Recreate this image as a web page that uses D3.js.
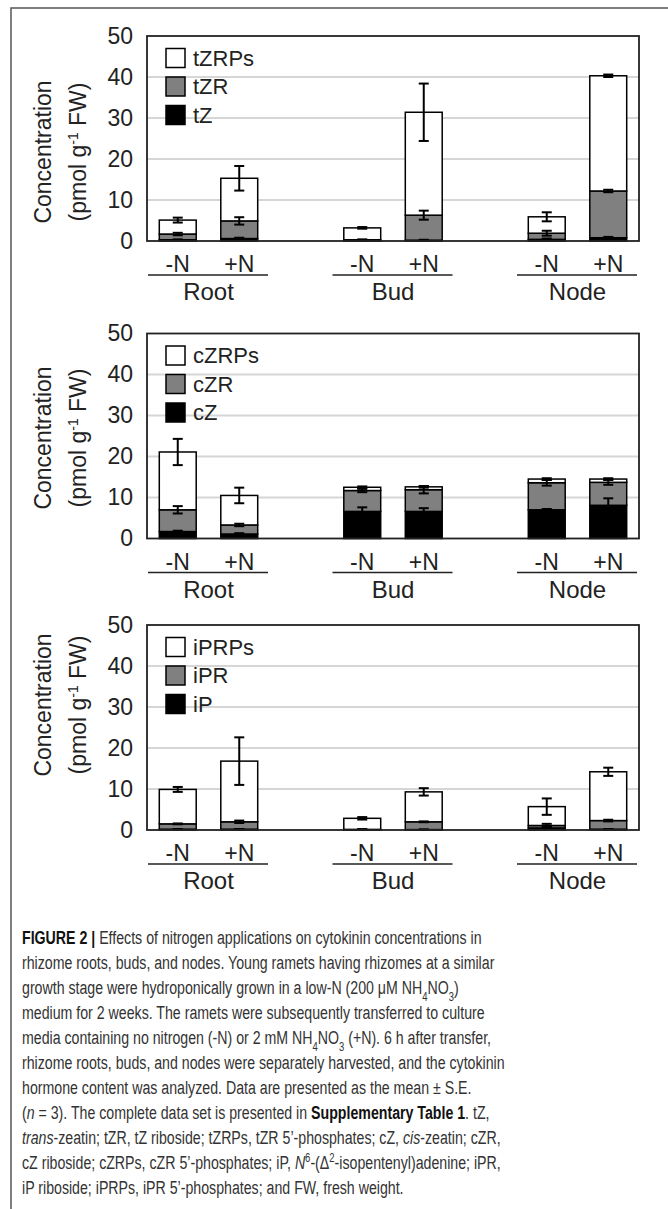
<!DOCTYPE html>
<meta charset="utf-8">
<body style="margin:0;background:#fff">
<svg id="fig"></svg>
<script src="https://cdn.jsdelivr.net/npm/d3@7"></script>
<script>
// bar order in every series: Root -N, Root +N, Bud -N, Bud +N, Node -N, Node +N
var organs = ["Root", "Bud", "Node"];
var treatments = ["-N", "+N"];
var yTicks = [0, 10, 20, 30, 40, 50];

// segment amounts (pmol g-1 FW), stacked bottom to top, and their S.E.
var tZ       = [0.3, 0.6, 0.1, 0.2, 0.4, 0.8];
var tZ_se    = [0.1, 0.2, 0.05, 0.1, 0.2, 0.2];
var tZR      = [1.4, 4.3, 0.2, 6.1, 1.5, 11.4];
var tZR_se   = [0.3, 0.9, 0.1, 1.1, 0.6, 0.3];
var tZRPs    = [3.4, 10.4, 2.9, 25.1, 4.0, 28.1];
var tZRPs_se = [0.6, 3.0, 0.2, 7.0, 1.1, 0.3];

var cZ       = [1.7, 1.1, 6.6, 6.6, 7.0, 8.1];
var cZ_se    = [0.2, 0.2, 1.0, 0.8, 0.2, 1.7];
var cZR      = [5.3, 2.2, 5.1, 5.3, 6.6, 5.6];
var cZR_se   = [0.9, 0.3, 0.4, 0.9, 0.7, 0.6];
var cZRPs    = [14.1, 7.2, 0.8, 0.7, 0.9, 0.8];
var cZRPs_se = [3.2, 1.9, 0.2, 0.2, 0.2, 0.2];

var iP       = [0.2, 0.2, 0.05, 0.1, 0.5, 0.2];
var iP_se    = [0.05, 0.05, 0.02, 0.05, 0.3, 0.05];
var iPR      = [1.3, 1.8, 0.1, 1.9, 0.6, 2.1];
var iPR_se   = [0.1, 0.3, 0.05, 0.1, 0.4, 0.2];
var iPRPs    = [8.4, 14.8, 2.7, 7.3, 4.6, 11.9];
var iPRPs_se = [0.6, 5.8, 0.3, 0.9, 2.0, 1.0];

var panels = [
  {keys: ["tZ", "tZR", "tZRPs"], values: [tZ, tZR, tZRPs], errors: [tZ_se, tZR_se, tZRPs_se]},
  {keys: ["cZ", "cZR", "cZRPs"], values: [cZ, cZR, cZRPs], errors: [cZ_se, cZR_se, cZRPs_se]},
  {keys: ["iP", "iPR", "iPRPs"], values: [iP, iPR, iPRPs], errors: [iP_se, iPR_se, iPRPs_se]}
];
var fills = ["#000", "#808080", "#fff"];

var caption = [
  [["FIGURE 2 | ", "b"], ["Effects of nitrogen applications on cytokinin concentrations in"]],
  [["rhizome roots, buds, and nodes. Young ramets having rhizomes at a similar"]],
  [["growth stage were hydroponically grown in a low-N (200 \u03bcM NH"], ["4", "sub"], ["NO"], ["3", "sub"], [")"]],
  [["medium for 2 weeks. The ramets were subsequently transferred to culture"]],
  [["media containing no nitrogen (-N) or 2 mM NH"], ["4", "sub"], ["NO"], ["3", "sub"], [" (+N). 6 h after transfer,"]],
  [["rhizome roots, buds, and nodes were separately harvested, and the cytokinin"]],
  [["hormone content was analyzed. Data are presented as the mean \u00b1 S.E."]],
  [["("], ["n", "i"], [" = 3). The complete data set is presented in "], ["Supplementary Table 1", "b"], [". tZ,"]],
  [["trans", "i"], ["-zeatin; tZR, tZ riboside; tZRPs, tZR 5\u2019-phosphates; cZ, "], ["cis", "i"], ["-zeatin; cZR,"]],
  [["cZ riboside; cZRPs, cZR 5\u2019-phosphates; iP, "], ["N", "i"], ["6", "sup"], ["-(\u0394"], ["2", "sup"], ["-isopentenyl)adenine; iPR,"]],
  [["iP riboside; iPRPs, iPR 5\u2019-phosphates; and FW, fresh weight."]]
];

var width = 668, height = 1209;
var font = "'Liberation Sans', Arial, sans-serif";

var svg = d3.select("#fig").attr("width", width).attr("height", height)
    .style("font-family", font);
svg.append("rect").attr("width", width).attr("height", height).attr("fill", "#fff");
// figure box: only top and left edges are visible
svg.append("path").attr("d", "M11," + height + "V8H" + width)
    .attr("fill", "none").attr("stroke", "#555").attr("stroke-width", 1.5);

var plotLeft = 147, plotRight = 639, plotH = 205;
var panelTops = [36, 333.5, 625];
var labelMid = [152, 438, 705];

var x0 = d3.scaleBand().domain(organs).range([plotLeft, plotRight])
    .paddingInner(1 / 3).paddingOuter(0);
var x1 = d3.scaleBand().domain(treatments).range([0, x0.bandwidth()])
    .paddingInner(0.4).paddingOuter(0.2);
var y = d3.scaleLinear().domain([0, 50]).range([plotH, 0]);

panels.forEach(function(p, pi) {
  var g = svg.append("g").attr("transform", "translate(0," + panelTops[pi] + ")");

  var rows = p.values[0].map(function(_, i) {
    var r = {organ: organs[Math.floor(i / 2)], trt: treatments[i % 2], idx: i};
    p.keys.forEach(function(k, j) { r[k] = p.values[j][i]; });
    return r;
  });
  var series = d3.stack().keys(p.keys)(rows);

  // grid
  g.selectAll(".grid").data(yTicks.slice(1, -1)).enter().append("line")
    .attr("x1", plotLeft).attr("x2", plotRight)
    .attr("y1", function(d) { return y(d); }).attr("y2", function(d) { return y(d); })
    .attr("stroke", "#d6d6d6").attr("stroke-width", 2);

  // bars
  series.forEach(function(s, j) {
    g.selectAll(".bar" + j).data(s).enter().append("rect")
      .attr("x", function(d) { return x0(d.data.organ) + x1(d.data.trt); })
      .attr("width", x1.bandwidth())
      .attr("y", function(d) { return y(d[1]); })
      .attr("height", function(d) { return y(d[0]) - y(d[1]); })
      .attr("fill", fills[j]).attr("stroke", "#000").attr("stroke-width", 1.5);
  });

  // error bars
  series.forEach(function(s, j) {
    s.forEach(function(d) {
      var cx = x0(d.data.organ) + x1(d.data.trt) + x1.bandwidth() / 2;
      var se = p.errors[j][d.data.idx];
      var hi = y(d[1] + se), lo = y(d[1] - se);
      var eb = g.append("g").attr("stroke", "#000").attr("stroke-width", 2);
      eb.append("line").attr("x1", cx).attr("x2", cx).attr("y1", hi).attr("y2", lo);
      eb.append("line").attr("x1", cx - 5).attr("x2", cx + 5).attr("y1", hi).attr("y2", hi);
      eb.append("line").attr("x1", cx - 5).attr("x2", cx + 5).attr("y1", lo).attr("y2", lo);
    });
  });

  // frame
  g.append("rect").attr("x", plotLeft).attr("y", 0)
    .attr("width", plotRight - plotLeft).attr("height", plotH)
    .attr("fill", "none").attr("stroke", "#222").attr("stroke-width", 1.8);

  // y axis
  var ax = g.append("g").attr("transform", "translate(" + plotLeft + ",0)")
    .call(d3.axisLeft(y).tickValues(yTicks).tickSize(0).tickPadding(14));
  ax.select(".domain").remove();
  ax.selectAll("text").style("font-size", "23px").style("font-family", font).attr("fill", "#222");

  // y label
  var yl = g.append("g").attr("fill", "#222").style("font-size", "23px");
  yl.append("text").attr("transform", "translate(43," + (labelMid[pi] - panelTops[pi]) + ") rotate(-90)")
    .attr("text-anchor", "middle").attr("dy", "0.35em").text("Concentration");
  var t2 = yl.append("text").attr("transform", "translate(78," + (labelMid[pi] - panelTops[pi]) + ") rotate(-90)")
    .attr("text-anchor", "middle").attr("dy", "0.35em");
  t2.append("tspan").text("(pmol g");
  t2.append("tspan").attr("baseline-shift", "super").style("font-size", "14px").text("-1");
  t2.append("tspan").text(" FW)");

  // legend (top layer first)
  var legendKeys = p.keys.slice().reverse();
  legendKeys.forEach(function(k, li) {
    var cy = 22 + li * 28.5;
    g.append("rect").attr("x", 166).attr("y", cy - 9.5).attr("width", 19).attr("height", 19)
      .attr("fill", fills[2 - li]).attr("stroke", "#000").attr("stroke-width", 1.5);
    g.append("text").attr("x", 193).attr("y", cy).attr("dy", "0.35em")
      .style("font-size", "22px").attr("fill", "#222").text(k);
  });

  // x labels
  rows.forEach(function(r) {
    g.append("text")
      .attr("x", x0(r.organ) + x1(r.trt) + x1.bandwidth() / 2)
      .attr("y", plotH + 23).attr("dy", "0.35em").attr("text-anchor", "middle")
      .style("font-size", "23px").attr("fill", "#222").text(r.trt);
  });
  organs.forEach(function(o) {
    g.append("line").attr("x1", x0(o) + 1).attr("x2", x0(o) + x0.bandwidth() - 2)
      .attr("y1", plotH + 34).attr("y2", plotH + 34)
      .attr("stroke", "#222").attr("stroke-width", 1.5);
    g.append("text").attr("x", x0(o) + x0.bandwidth() / 2).attr("y", plotH + 51)
      .attr("dy", "0.35em").attr("text-anchor", "middle")
      .style("font-size", "24px").attr("fill", "#222").text(o);
  });
});

// caption
var cap = svg.append("g").attr("fill", "#333").style("font-size", "18px");
caption.forEach(function(line, li) {
  var t = cap.append("text").attr("x", 0).attr("y", 944 + li * 25);
  line.forEach(function(seg) {
    var ts = t.append("tspan").text(seg[0]);
    if (seg[1] === "b") ts.style("font-weight", "bold").attr("fill", "#111");
    if (seg[1] === "i") ts.style("font-style", "italic");
    if (seg[1] === "sub") ts.attr("baseline-shift", "sub").style("font-size", "12px");
    if (seg[1] === "sup") ts.attr("baseline-shift", "super").style("font-size", "12px");
  });
});
var maxW = d3.max(cap.selectAll("text").nodes(), function(n) { return n.getComputedTextLength(); });
cap.attr("transform", "translate(22,0) scale(" + (483 / maxW) + ",1)");
</script>
</body>
